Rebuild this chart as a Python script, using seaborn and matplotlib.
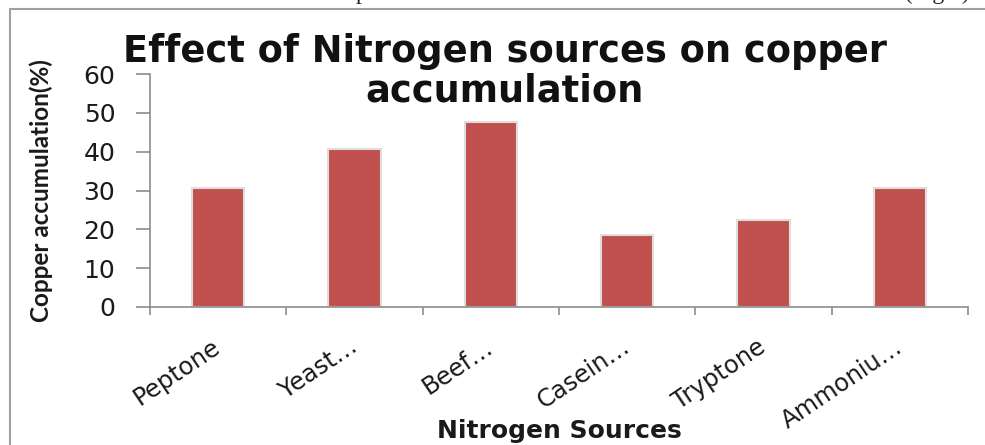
import matplotlib
matplotlib.use('Agg')
import matplotlib.pyplot as plt
import seaborn as sns
import pandas as pd
from matplotlib.lines import Line2D

# ---- data ----
categories = ['Peptone', 'Yeast…', 'Beef…', 'Casein…', 'Tryptone', 'Ammoniu…']
values = [30.6, 40.6, 47.7, 18.5, 22.5, 30.6]
y_ticks = [0, 10, 20, 30, 40, 50, 60]

title_text = 'Effect of Nitrogen sources on copper\naccumulation'
x_label = 'Nitrogen Sources'
y_label = 'Copper accumulation(%)'
top_text = 'and in the presence of beef extract the accumulation was about 48% (Fig.6).'

df = pd.DataFrame({'source': categories, 'value': values})

sns.set_style('white')
plt.rcParams['font.family'] = ['DejaVu Sans']

W, H = 985, 445
fig = plt.figure(figsize=(W / 100, H / 100), dpi=100)
ax_left, ax_right, ax_top, ax_bot = 150, 968, 74, 307
ax = fig.add_axes([ax_left / W, 1 - ax_bot / H, (ax_right - ax_left) / W, (ax_bot - ax_top) / H])

sns.barplot(data=df, x='source', y='value', color='#C0504D', saturation=1,
            width=0.385, edgecolor='#dedede', linewidth=1.5, ax=ax)

ax.set_xlim(-0.5, len(categories) - 0.5)
ax.set_ylim(0, 60)
ax.set_yticks(y_ticks)

gray = '#8c8c8c'
for s in ['top', 'right']:
    ax.spines[s].set_visible(False)
for s in ['left', 'bottom']:
    ax.spines[s].set_color(gray)
    ax.spines[s].set_linewidth(1.2)

# category ticks at boundaries (Excel style)
ax.set_xticks(range(len(categories)))
ax.set_xticks([i - 0.5 for i in range(len(categories) + 1)], minor=True)
ax.tick_params(axis='x', which='major', length=0, pad=27, labelsize=17.5, labelcolor='#1a1a1a')
ax.tick_params(axis='x', which='minor', length=6, width=1.2, color=gray, direction='out', bottom=True)
ax.tick_params(axis='y', length=10, width=1.2, color=gray, direction='out', left=True,
               pad=15, labelsize=18, labelcolor='#1a1a1a')
ax.set_xticklabels(categories, rotation=34, ha='right', va='center', rotation_mode='anchor')

ax.set_xlabel(x_label, fontsize=18, fontweight='bold', va='center', color='#1a1a1a')
ax.xaxis.set_label_coords((559 - ax_left) / (ax_right - ax_left), (ax_bot - 431) / (ax_bot - ax_top))
ax.set_ylabel(y_label, fontsize=17.5, fontweight='bold', family=['Lato', 'DejaVu Sans'],
              va='center', color='#1a1a1a')
ax.yaxis.set_label_coords((41 - ax_left) / (ax_right - ax_left), 0.5)

ax.set_title(title_text, fontsize=26.5, fontweight='bold', color='#111111',
             x=(505 - ax_left) / (ax_right - ax_left), y=(ax_bot - 102) / (ax_bot - ax_top),
             pad=0, ha='center', va='baseline', linespacing=1.12)

# chart border (partially visible crop)
fig.add_artist(Line2D([10 / W, 10 / W], [0, 1 - 9 / H], transform=fig.transFigure,
                      color='#a0a0a0', linewidth=1.5))
fig.add_artist(Line2D([10 / W, 1], [1 - 9 / H, 1 - 9 / H], transform=fig.transFigure,
                      color='#a0a0a0', linewidth=1.5))

# cropped line of page text at the very top (as in the scanned reference)
fig.text(975 / W, 1 + 1 / H, top_text, ha='right', va='baseline', fontsize=17,
         family=['Liberation Serif', 'DejaVu Serif'], color='#222222')

fig.savefig('out.png', dpi=100)
